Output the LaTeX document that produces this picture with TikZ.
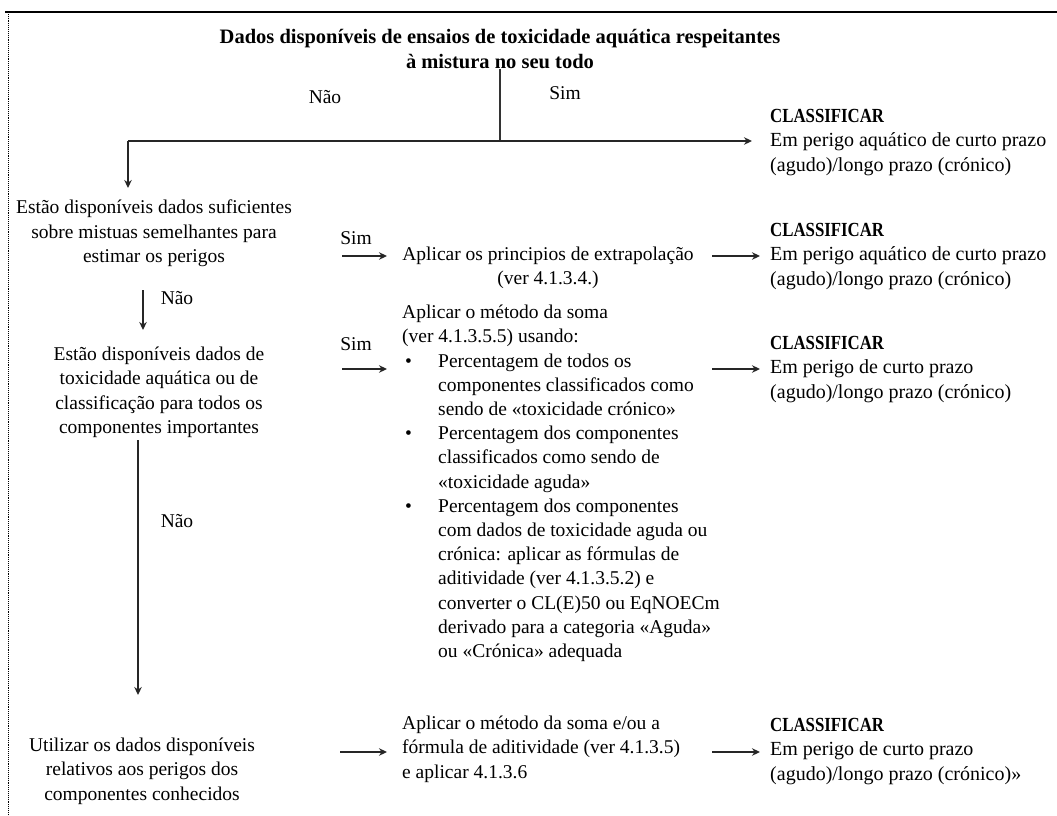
\documentclass[tikz,border=0pt]{standalone}
\usepackage{fontspec}
\setmainfont{Liberation Serif}
\usetikzlibrary{arrows.meta}
\newcommand{\bl}{\makebox[36pt][l]{\hspace*{3pt}\textbullet}}
\newcommand{\ind}{\hspace*{36pt}}
\newcommand{\clhead}{\scalebox{0.84}[1]{\textbf{CLASSIFICAR}}}
\begin{document}
\begin{tikzpicture}[x=1pt,y=-1pt,
  txt/.style={inner sep=0pt, font=\fontsize{19.5}{24.2}\selectfont},
  ctxt/.style={txt, align=center, anchor=north},
  ltxt/.style={txt, align=left, anchor=north west},
  cls/.style={inner sep=0pt, align=left, anchor=north west, font=\fontsize{20}{24.4}\selectfont},
  lbl/.style={txt, anchor=center},
  arr/.style={line width=1.6pt, black!85, -{Stealth[length=8pt,width=7.5pt]}},
  ln/.style={line width=1.3pt, black!80}]
\useasboundingbox (0,0) rectangle (1057,816);
% frame
\draw[line width=2.5pt] (5,12) -- (1057,12);
\draw[densely dotted, line width=0.9pt] (8,12) -- (8,816);
% title
\node[ctxt, font=\fontsize{20.5}{25}\selectfont\bfseries] (title) at (500,29)
  {Dados disponíveis de ensaios de toxicidade aquática respeitantes\\à mistura no seu todo};
% classify blocks
\node[cls] (cl1) at (770,109) {\clhead\\Em perigo aquático de curto prazo\\(agudo)/longo prazo (crónico)};
\node[cls] (cl2) at (770,223) {\clhead\\Em perigo aquático de curto prazo\\(agudo)/longo prazo (crónico)};
\node[cls] (cl3) at (770,336) {\clhead\\Em perigo de curto prazo\\(agudo)/longo prazo (crónico)};
\node[cls] (cl4) at (770,718) {\clhead\\Em perigo de curto prazo\\(agudo)/longo prazo (crónico)»};
% questions
\node[ctxt] (q1) at (154,200) {Estão disponíveis dados suficientes\\sobre mistuas semelhantes para\\estimar os perigos};
\node[ctxt] (q2) at (159,347) {Estão disponíveis dados de\\toxicidade aquática ou de\\classificação para todos os\\componentes importantes};
\node[ctxt] (q3) at (142,738) {Utilizar os dados disponíveis\\relativos aos perigos dos\\componentes conhecidos};
% actions
\node[ctxt] (ext) at (548,247) {Aplicar os principios de extrapolação\\(ver 4.1.3.4.)};
\node[ltxt] (sum) at (402,305) {Aplicar o método da soma\\(ver 4.1.3.5.5) usando:\\
\bl Percentagem de todos os\\
\ind componentes classificados como\\
\ind sendo de «toxicidade crónico»\\
\bl Percentagem dos componentes\\
\ind classificados como sendo de\\
\ind «toxicidade aguda»\\
\bl Percentagem dos componentes\\
\ind com dados de toxicidade aguda ou\\
\ind crónica: aplicar as fórmulas de\\
\ind aditividade (ver 4.1.3.5.2) e\\
\ind converter o CL(E)50 ou EqNOECm\\
\ind derivado para a categoria «Aguda»\\
\ind ou «Crónica» adequada};
\node[ltxt] (sum2) at (402,716) {Aplicar o método da soma e/ou a\\fórmula de aditividade (ver 4.1.3.5)\\e aplicar 4.1.3.6};
% labels
\node[lbl] (nao1) at (325,97) {Não};
\node[lbl] (sim1) at (565,93) {Sim};
\node[lbl] (sim2) at (356,238) {Sim};
\node[lbl] (nao2) at (177,298) {Não};
\node[lbl] (sim3) at (356,344) {Sim};
\node[lbl] (nao3) at (177,521) {Não};
% coordinates
\coordinate (j1) at (500,141);
\coordinate (c1) at (128,141);
\coordinate (e1) at (752,141);
\coordinate (d1) at (128,188);
\coordinate (a2s) at (342,256); \coordinate (a2e) at (387,256);
\coordinate (b2s) at (712,256); \coordinate (b2e) at (760,256);
\coordinate (v1s) at (143,290); \coordinate (v1e) at (143,330);
\coordinate (a3s) at (342,369); \coordinate (a3e) at (387,369);
\coordinate (b3s) at (712,369); \coordinate (b3e) at (760,369);
\coordinate (v2s) at (138,440); \coordinate (v2e) at (138,695);
\coordinate (a4s) at (340,752); \coordinate (a4e) at (387,752);
\coordinate (b4s) at (712,752); \coordinate (b4e) at (760,752);
% connectors
\draw[ln] (title.south) -- (j1);
\draw[arr] (c1) -- (e1);
\draw[arr] (c1) -- (d1);
\draw[arr] (a2s) -- (a2e);
\draw[arr] (b2s) -- (b2e);
\draw[arr] (v1s) -- (v1e);
\draw[arr] (a3s) -- (a3e);
\draw[arr] (b3s) -- (b3e);
\draw[arr] (v2s) -- (v2e);
\draw[arr] (a4s) -- (a4e);
\draw[arr] (b4s) -- (b4e);
\end{tikzpicture}
\end{document}
